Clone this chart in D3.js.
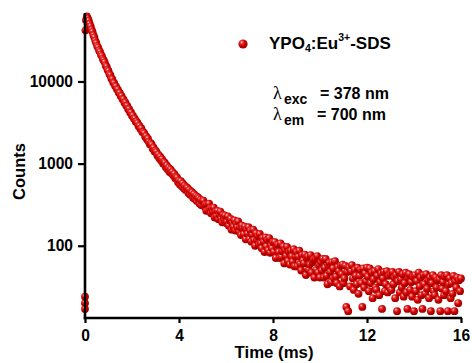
<!DOCTYPE html>
<html><head><meta charset="utf-8">
<script src="https://cdn.jsdelivr.net/npm/d3@7"></script>
<style>
body{margin:0;background:#fff;}
svg{display:block;font-family:"Liberation Sans",Arial,Helvetica,sans-serif;font-weight:bold;}
</style>
</head><body>
<svg id="chart" width="472" height="363"></svg>
<script>
// ---------- data ----------
const xTicks = [0, 4, 8, 12, 16];
const yTicks = [100, 1000, 10000];
const xLabel = "Time (ms)";
const yLabel = "Counts";
const seriesName = ["YPO", "4", ":Eu", "3+", "-SDS"];
const annotations = [
  {sym: "\u03BB", sub: "exc", text: "= 378 nm"},
  {sym: "\u03BB", sub: "em",  text: "= 700 nm"}
];

const timeMs = [
  0, 0, 0, 0.02,
  0.04,0.08,0.12,0.16,0.20,0.24,0.28,0.32,0.36,0.40,0.44,0.48,0.52,0.56,0.60,0.64,0.68,0.72,0.76,0.80,0.84,0.88,0.92,0.96,1.00,
  1.04,1.08,1.12,1.16,1.20,1.24,1.28,1.32,1.36,1.40,1.44,1.48,1.52,1.56,1.60,1.64,1.68,1.72,1.76,1.80,1.84,1.88,1.92,1.96,2.00,
  2.04,2.08,2.12,2.16,2.20,2.24,2.28,2.32,2.36,2.40,2.44,2.48,2.52,2.56,2.60,2.64,2.68,2.72,2.76,2.80,2.84,2.88,2.92,2.96,3.00,
  3.04,3.08,3.12,3.16,3.20,3.24,3.28,3.32,3.36,3.40,3.44,3.48,3.52,3.56,3.60,3.64,3.68,3.72,3.76,3.80,3.84,3.88,3.92,3.96,4.00,
  4.04,4.08,4.12,4.16,4.20,4.24,4.28,4.32,4.36,4.40,4.44,4.48,4.52,4.56,4.60,4.64,4.68,4.72,4.76,4.80,4.84,4.88,4.92,4.96,5.00,
  5.04,5.08,5.12,5.16,5.20,5.24,5.28,5.32,5.36,5.40,5.44,5.48,5.52,5.56,5.60,5.64,5.68,5.72,5.76,5.80,5.84,5.88,5.92,5.96,6.00,
  6.04,6.08,6.12,6.16,6.20,6.24,6.28,6.32,6.36,6.40,6.44,6.48,6.52,6.56,6.60,6.64,6.68,6.72,6.76,6.80,6.84,6.88,6.92,6.96,7.00,
  7.04,7.08,7.12,7.16,7.20,7.24,7.28,7.32,7.36,7.40,7.44,7.48,7.52,7.56,7.60,7.64,7.68,7.72,7.76,7.80,7.84,7.88,7.92,7.96,8.00,
  8.04,8.08,8.12,8.16,8.20,8.24,8.28,8.32,8.36,8.40,8.44,8.48,8.52,8.56,8.60,8.64,8.68,8.72,8.76,8.80,8.84,8.88,8.92,8.96,9.00,
  9.04,9.08,9.12,9.16,9.20,9.24,9.28,9.32,9.36,9.40,9.44,9.48,9.52,9.56,9.60,9.64,9.68,9.72,9.76,9.80,9.84,9.88,9.92,9.96,10.00,
  10.04,10.08,10.12,10.16,10.20,10.24,10.28,10.32,10.36,10.40,10.44,10.48,10.52,10.56,10.60,10.64,10.68,10.72,10.76,10.80,10.84,10.88,10.92,10.96,11.00,
  11.04,11.08,11.12,11.16,11.20,11.24,11.28,11.32,11.36,11.40,11.44,11.48,11.52,11.56,11.60,11.64,11.68,11.72,11.76,11.80,11.84,11.88,11.92,11.96,12.00,
  12.04,12.08,12.12,12.16,12.20,12.24,12.28,12.32,12.36,12.40,12.44,12.48,12.52,12.56,12.60,12.64,12.68,12.72,12.76,12.80,12.84,12.88,12.92,12.96,13.00,
  13.04,13.08,13.12,13.16,13.20,13.24,13.28,13.32,13.36,13.40,13.44,13.48,13.52,13.56,13.60,13.64,13.68,13.72,13.76,13.80,13.84,13.88,13.92,13.96,14.00,
  14.04,14.08,14.12,14.16,14.20,14.24,14.28,14.32,14.36,14.40,14.44,14.48,14.52,14.56,14.60,14.64,14.68,14.72,14.76,14.80,14.84,14.88,14.92,14.96,15.00,
  15.04,15.08,15.12,15.16,15.20,15.24,15.28,15.32,15.36,15.40,15.44,15.48,15.52,15.56,15.60,15.64,15.68,15.72,15.76,15.80,15.84,15.88,15.92,15.96,16.00
];

const counts = [
  24, 20, 17, 42000,
  56000,61800,58700,54900,50100,46900,42800,40200,36600,34400,31300,29400,27000,25900,23900,22950,21200,20400,18800,18050,17100,15700,15150,13900,13450,
  12300,11950,10900,10650,9700,9580,8800,8720,8020,7980,7300,7260,6650,6640,6080,6060,5520,5540,5050,5040,4600,4610,4200,4190,3830,
  3850,3540,3520,3240,3250,3110,2860,2880,2640,2680,2430,2420,2350,2120,2160,1960,2010,1830,1720,1770,1700,1520,1560,1400,1440,
  1390,1260,1290,1160,1215,1090,1135,1005,1050,1020,905,950,850,890,790,850,765,795,715,750,665,692,673,593,622,
  558,610,530,575,502,538,478,518,502,438,478,418,455,445,384,425,372,405,350,392,378,325,362,312,349,
  353,300,316,266,318,269,325,284,248,286,261,292,221,261,231,266,211,238,261,213,193,237,211,233,189,
  196,228,175,203,212,157,188,170,204,153,186,168,198,149,168,135,176,162,138,171,120,157,140,168,120,
  153,112,136,157,117,100,142,118,131,103,139,107,93,124,112,84,126,98,118,88,124,82,101,93,111,
  84,111,71,96,103,84,71,107,73,86,98,61,89,75,97,65,84,59,87,74,64,91,56,74,84,
  56,74,87,60,50,77,66,61,78,44,70,74,51,59,77,47,63,68,41,70,51,75,47,58,41,
  63,50,69,41,54,69,43,34,57,62,48,36,63,53,40,65,42,35,55,49,32,57,45,59,35,
  40,57,18,48,16,54,32,49,58,40,29,51,43,34,54,26,43,51,35,18,53,31,46,37,54,
  42,28,53,35,47,23,39,49,31,29,43,52,25,36,46,17,40,48,28,34,49,27,43,31,45,
  29,48,34,41,23,44,16,37,48,27,39,31,45,24,35,47,27,17,41,45,29,36,24,42,16,
  44,28,37,22,47,32,41,25,17,44,34,26,45,30,38,23,41,16,35,44,28,25,41,31,38,
  22,39,16,44,30,36,25,42,28,44,16,34,40,23,35,26,43,16,37,31,41,20,38,28,40
];

// ---------- layout ----------
const svg = d3.select("#chart");
const x = d3.scaleLinear().domain([0, 16]).range([85, 461]);
const y = d3.scaleLog().domain([13.2, 68200]).range([318, 13]);

// gradient for shaded balls
const defs = svg.append("defs");
const g = defs.append("radialGradient").attr("id", "ball")
  .attr("cx", "38%").attr("cy", "35%").attr("r", "65%").attr("fx", "35%").attr("fy", "30%");
g.append("stop").attr("offset", "0%").attr("stop-color", "#ffe4e4");
g.append("stop").attr("offset", "22%").attr("stop-color", "#ec4444");
g.append("stop").attr("offset", "55%").attr("stop-color", "#d00000");
g.append("stop").attr("offset", "100%").attr("stop-color", "#980000");

// data points
const data = timeMs.map((t, i) => ({t, c: counts[i]}));
svg.append("g").selectAll("circle").data(data).join("circle")
  .attr("cx", d => x(d.t)).attr("cy", d => y(d.c)).attr("r", 3.9)
  .attr("fill", "url(#ball)");

// axes
const xAxis = svg.append("g").attr("transform", "translate(0,318)")
  .call(d3.axisBottom(x).tickValues(xTicks).tickSize(5).tickSizeOuter(0).tickPadding(7).tickFormat(d3.format("d")));
const yAxis = svg.append("g").attr("transform", "translate(85,0)")
  .call(d3.axisLeft(y).tickValues(yTicks).tickSize(7).tickSizeOuter(0).tickPadding(5).tickFormat(d3.format("d")));
[xAxis, yAxis].forEach(a => {
  a.select(".domain").attr("stroke", "#000").attr("stroke-width", 2.6);
  a.selectAll(".tick line").attr("stroke", "#000").attr("stroke-width", 2.2);
  a.selectAll(".tick text").attr("fill", "#000").attr("font-size", 15.6)
    .attr("font-family", "Liberation Sans, Arial, sans-serif").attr("font-weight", "bold");
});
xAxis.select(".domain").attr("d", "M83.7,0H462");
yAxis.select(".domain").attr("d", "M0,13V319.3");

// axis titles
svg.append("text").attr("x", 274).attr("y", 357.5).attr("text-anchor", "middle")
  .attr("font-size", 16.8).text(xLabel);
svg.append("text").attr("transform", "translate(24.5,171.5) rotate(-90)")
  .attr("text-anchor", "middle").attr("font-size", 16.5).text(yLabel);

// legend
svg.append("circle").attr("cx", 243).attr("cy", 44).attr("r", 4.6).attr("fill", "url(#ball)");
const lt = svg.append("text").attr("x", 269).attr("y", 48.5).attr("font-size", 17);
lt.append("tspan").text(seriesName[0]);
lt.append("tspan").attr("font-size", 10.5).attr("dy", 3.8).text(seriesName[1]);
lt.append("tspan").attr("dy", -3.8).text(seriesName[2]);
lt.append("tspan").attr("font-size", 10.5).attr("dy", -7.6).text(seriesName[3]);
lt.append("tspan").attr("dy", 7.6).text(seriesName[4]);

// annotations
const annY = [99, 120];
const eqX = [320, 317];
annotations.forEach((a, i) => {
  svg.append("text").attr("x", 273).attr("y", annY[i])
    .attr("font-family", "Liberation Serif, serif").attr("font-weight", "normal")
    .attr("font-size", 18).text(a.sym);
  svg.append("text").attr("x", 284).attr("y", annY[i] + 5).attr("font-size", 14).text(a.sub);
  svg.append("text").attr("x", eqX[i]).attr("y", annY[i]).attr("font-size", 16).text(a.text);
});
</script>
</body></html>
